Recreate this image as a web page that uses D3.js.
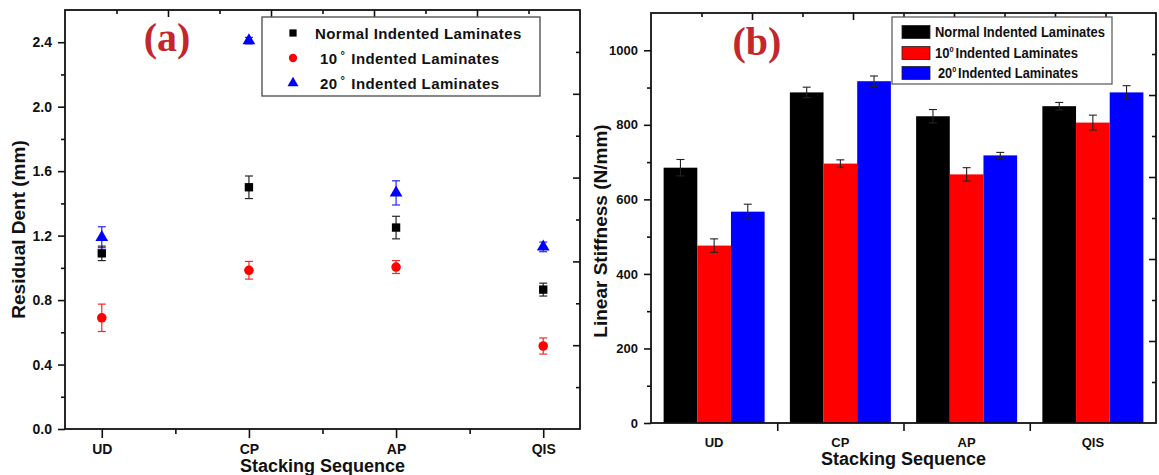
<!DOCTYPE html>
<html>
<head>
<meta charset="utf-8">
<script src="https://cdn.jsdelivr.net/npm/d3@7"></script>
<style>
  body { margin: 0; background: #fff; }
  svg { display: block; font-family: "Liberation Sans", Arial, sans-serif; font-weight: bold; }
</style>
</head>
<body>
<svg id="chart" width="1159" height="475"></svg>
<script>
// values
var categories = ['UD', 'CP', 'AP', 'QIS'];
var seriesNames = ['Normal Indented Laminates', '10', '20'];

var dentNormal = [1.09, 1.50, 1.25, 0.865];
var dentNormalErr = [0.045, 0.07, 0.07, 0.04];
var dent10 = [0.69, 0.985, 1.005, 0.515];
var dent10Err = [0.085, 0.055, 0.04, 0.05];
var dent20 = [1.19, 2.41, 1.465, 1.13];
var dent20Err = [0.065, 0.02, 0.075, 0.03];

var stiffNormal = [685, 887, 823, 850];
var stiffNormalErr = [22, 14, 18, 10];
var stiff10 = [476, 696, 667, 806];
var stiff10Err = [18, 10, 18, 20];
var stiff20 = [567, 917, 718, 887];
var stiff20Err = [20, 14, 8, 18];

var dentTicks = [0, 0.4, 0.8, 1.2, 1.6, 2.0, 2.4];
var stiffTicks = [0, 200, 400, 600, 800, 1000];

var colors = ['#000000', '#ff0000', '#0000ff'];
var labelRed = '#c3262d';

var svg = d3.select('#chart');

// small helpers for the Origin-style frame
function frame(g, x0, y0, x1, y1) {
  var top = d3.scaleLinear().domain([0, 10]).range([x0, x1]);
  var right = d3.scaleLinear().domain([0, 10]).range([y1, y0]);
  var evens = d3.range(2, 10, 2), odds = d3.range(1, 10, 2);
  [[evens, 7], [odds, 4]].forEach(function(t) {
    g.append('g').attr('transform', 'translate(0,' + y0 + ')')
      .call(d3.axisTop(top).tickValues(t[0]).tickSize(-t[1]).tickFormat(''))
      .call(clean);
    g.append('g').attr('transform', 'translate(' + x1 + ',0)')
      .call(d3.axisRight(right).tickValues(t[0]).tickSize(-t[1]).tickFormat(''))
      .call(clean);
  });
  g.append('rect')
    .attr('x', x0).attr('y', y0)
    .attr('width', x1 - x0).attr('height', y1 - y0)
    .attr('fill', 'none').attr('stroke', '#111').attr('stroke-width', 1.8);
}

function clean(sel) {
  sel.select('.domain').remove();
  sel.selectAll('line').attr('stroke', '#111').attr('stroke-width', 1.6);
  sel.selectAll('text')
    .attr('fill', '#111')
    .style('font-family', '"Liberation Sans", Arial, sans-serif')
    .style('font-weight', 'bold');
}

// ---------- panel (a) ----------
(function () {
  var x0 = 65, x1 = 580, y0 = 10, y1 = 429;
  var g = svg.append('g');

  var x = d3.scaleLinear().domain([0.75, 4.25]).range([x0, x1]);
  var y = d3.scaleLinear().domain([0, 2.6]).range([y1, y0]);

  // left axis
  g.append('g').attr('transform', 'translate(' + x0 + ',0)')
    .call(d3.axisLeft(y).tickValues(dentTicks).tickSize(7).tickPadding(6).tickFormat(d3.format('.1f')))
    .call(clean)
    .selectAll('text').style('font-size', '14px');
  g.append('g').attr('transform', 'translate(' + x0 + ',0)')
    .call(d3.axisLeft(y).tickValues(d3.range(0.2, 2.6, 0.4)).tickSize(4).tickFormat(''))
    .call(clean);

  // bottom axis
  g.append('g').attr('transform', 'translate(0,' + y1 + ')')
    .call(d3.axisBottom(x).tickValues([1, 2, 3, 4]).tickSize(9).tickPadding(6)
      .tickFormat(function(d) { return categories[d - 1]; }))
    .call(clean)
    .selectAll('text').style('font-size', '14px');
  g.append('g').attr('transform', 'translate(0,' + y1 + ')')
    .call(d3.axisBottom(x).tickValues([1.5, 2.5, 3.5]).tickSize(5).tickFormat(''))
    .call(clean);

  frame(g, x0, y0, x1, y1);

  var series = [
    { v: dentNormal, e: dentNormalErr, shape: d3.symbolSquare, size: 70 },
    { v: dent10, e: dent10Err, shape: d3.symbolCircle, size: 72 },
    { v: dent20, e: dent20Err, shape: d3.symbolTriangle, size: 70 }
  ];

  series.forEach(function(s, i) {
    var pts = categories.map(function(c, k) { return { k: k + 1, v: s.v[k], e: s.e[k] }; });
    var eg = g.append('g').attr('stroke', colors[i]).attr('stroke-width', 1.2).attr('opacity', 0.85);
    pts.forEach(function(p) {
      var cx = x(p.k), top = y(p.v + p.e), bot = y(p.v - p.e);
      eg.append('line').attr('x1', cx).attr('x2', cx).attr('y1', top).attr('y2', bot);
      eg.append('line').attr('x1', cx - 4).attr('x2', cx + 4).attr('y1', top).attr('y2', top);
      eg.append('line').attr('x1', cx - 4).attr('x2', cx + 4).attr('y1', bot).attr('y2', bot);
    });
    g.selectAll('.m' + i).data(pts).enter().append('path')
      .attr('transform', function(p) { return 'translate(' + x(p.k) + ',' + y(p.v) + ')'; })
      .attr('d', d3.symbol().type(s.shape).size(s.size))
      .attr('fill', colors[i]);
  });

  // legend
  var lg = g.append('g');
  lg.append('rect').attr('x', 262).attr('y', 17).attr('width', 278).attr('height', 79)
    .attr('fill', '#fff').attr('stroke', '#555').attr('stroke-width', 1.4);
  var rows = [33, 58, 83];
  series.forEach(function(s, i) {
    lg.append('path')
      .attr('transform', 'translate(293,' + rows[i] + ')')
      .attr('d', d3.symbol().type(s.shape).size(s.size * 0.75))
      .attr('fill', colors[i]);
    var t = lg.append('text').attr('y', rows[i] + 5.5).attr('font-size', 15)
      .attr('fill', '#111').attr('letter-spacing', 0.4);
    if (i === 0) {
      t.attr('x', 315).text(seriesNames[0]);
    } else {
      t.attr('x', 320);
      t.append('tspan').text(seriesNames[i]);
      t.append('tspan').attr('dx', 3).attr('dy', -5).attr('font-size', 11).text('°');
      t.append('tspan').attr('dx', 6).attr('dy', 5).text('Indented Laminates');
    }
  });

  // panel tag and titles
  g.append('text').attr('x', 167).attr('y', 51).attr('text-anchor', 'middle')
    .attr('font-family', '"Liberation Serif", "Times New Roman", serif')
    .attr('font-size', 40).attr('fill', labelRed).text('(a)');

  g.append('text')
    .attr('transform', 'translate(25,' + ((y0 + y1) / 2 + 10) + ') rotate(-90)')
    .attr('text-anchor', 'middle').attr('font-size', 19).attr('fill', '#111')
    .text('Residual Dent (mm)');
  g.append('text').attr('x', (x0 + x1) / 2).attr('y', 472).attr('text-anchor', 'middle')
    .attr('font-size', 18).attr('fill', '#111').text('Stacking Sequence');
})();

// ---------- panel (b) ----------
(function () {
  var x0 = 651, x1 = 1156, y0 = 13, y1 = 423;
  var g = svg.append('g');

  var x = d3.scaleBand().domain(categories).range([x0, x1]);
  var xEdge = d3.scaleLinear().domain([0, 4]).range([x0, x1]);
  var xSub = d3.scaleBand().domain([0, 1, 2]).range([0, x.bandwidth()]).paddingOuter(0.375);
  var y = d3.scaleLinear().domain([0, 1100]).range([y1, y0]);

  g.append('g').attr('transform', 'translate(' + x0 + ',0)')
    .call(d3.axisLeft(y).tickValues(stiffTicks).tickSize(7).tickPadding(6).tickFormat(d3.format('d')))
    .call(clean)
    .selectAll('text').style('font-size', '13px');
  g.append('g').attr('transform', 'translate(' + x0 + ',0)')
    .call(d3.axisLeft(y).tickValues(d3.range(100, 1100, 200)).tickSize(4).tickFormat(''))
    .call(clean);

  g.append('g').attr('transform', 'translate(0,' + y1 + ')')
    .call(d3.axisBottom(x).tickSize(0).tickPadding(15))
    .call(clean)
    .selectAll('text').style('font-size', '13px');
  g.append('g').attr('transform', 'translate(0,' + y1 + ')')
    .call(d3.axisBottom(xEdge).tickValues([1, 2, 3]).tickSize(8).tickFormat(''))
    .call(clean);

  var values = [stiffNormal, stiff10, stiff20];
  var errs = [stiffNormalErr, stiff10Err, stiff20Err];

  values.forEach(function(vals, i) {
    var data = categories.map(function(c, k) { return { c: c, v: vals[k], e: errs[i][k] }; });
    g.selectAll('.bar' + i).data(data).enter().append('rect')
      .attr('x', function(d) { return x(d.c) + xSub(i); })
      .attr('y', function(d) { return y(d.v); })
      .attr('width', xSub.bandwidth())
      .attr('height', function(d) { return y(0) - y(d.v); })
      .attr('fill', colors[i]);
  });

  values.forEach(function(vals, i) {
    var eg = g.append('g').attr('stroke', '#222').attr('stroke-width', 1.1);
    categories.forEach(function(c, k) {
      var cx = x(c) + xSub(i) + xSub.bandwidth() / 2;
      var top = y(vals[k] + errs[i][k]), bot = y(vals[k] - errs[i][k]);
      eg.append('line').attr('x1', cx).attr('x2', cx).attr('y1', top).attr('y2', bot);
      eg.append('line').attr('x1', cx - 4).attr('x2', cx + 4).attr('y1', top).attr('y2', top);
      eg.append('line').attr('x1', cx - 4).attr('x2', cx + 4).attr('y1', bot).attr('y2', bot);
    });
  });

  frame(g, x0, y0, x1, y1);

  // legend
  var lg = g.append('g');
  lg.append('rect').attr('x', 892).attr('y', 17).attr('width', 220).attr('height', 67)
    .attr('fill', '#fff').attr('stroke', '#555').attr('stroke-width', 1.2);
  var rows = [32, 53, 73];
  seriesNames.forEach(function(name, i) {
    lg.append('rect').attr('x', 902).attr('y', rows[i] - 6.5).attr('width', 28).attr('height', 13)
      .attr('fill', colors[i]).attr('stroke', '#222').attr('stroke-width', 0.8);
    var t = lg.append('text').attr('y', rows[i] + 5).attr('font-size', 14).attr('fill', '#111');
    if (i === 0) {
      t.attr('x', 935).attr('textLength', 170).attr('lengthAdjust', 'spacingAndGlyphs').text(name);
    } else {
      t.attr('x', i === 1 ? 935 : 938);
      t.append('tspan').text(name);
      t.append('tspan').attr('dy', -6).attr('font-size', 8).text('0');
      t.append('tspan').attr('dx', 2).attr('dy', 6).text('Indented Laminates');
      t.attr('textLength', i === 1 ? 143 : 140).attr('lengthAdjust', 'spacingAndGlyphs');
    }
  });

  g.append('text').attr('x', 757).attr('y', 55).attr('text-anchor', 'middle')
    .attr('font-family', '"Liberation Serif", "Times New Roman", serif')
    .attr('font-size', 40).attr('fill', labelRed).text('(b)');

  g.append('text')
    .attr('transform', 'translate(607,' + ((y0 + y1) / 2 + 13) + ') rotate(-90)')
    .attr('text-anchor', 'middle').attr('font-size', 19).attr('fill', '#111')
    .text('Linear Stiffness (N/mm)');
  g.append('text').attr('x', (x0 + x1) / 2).attr('y', 465).attr('text-anchor', 'middle')
    .attr('font-size', 18).attr('fill', '#111').text('Stacking Sequence');
})();
</script>
</body>
</html>
